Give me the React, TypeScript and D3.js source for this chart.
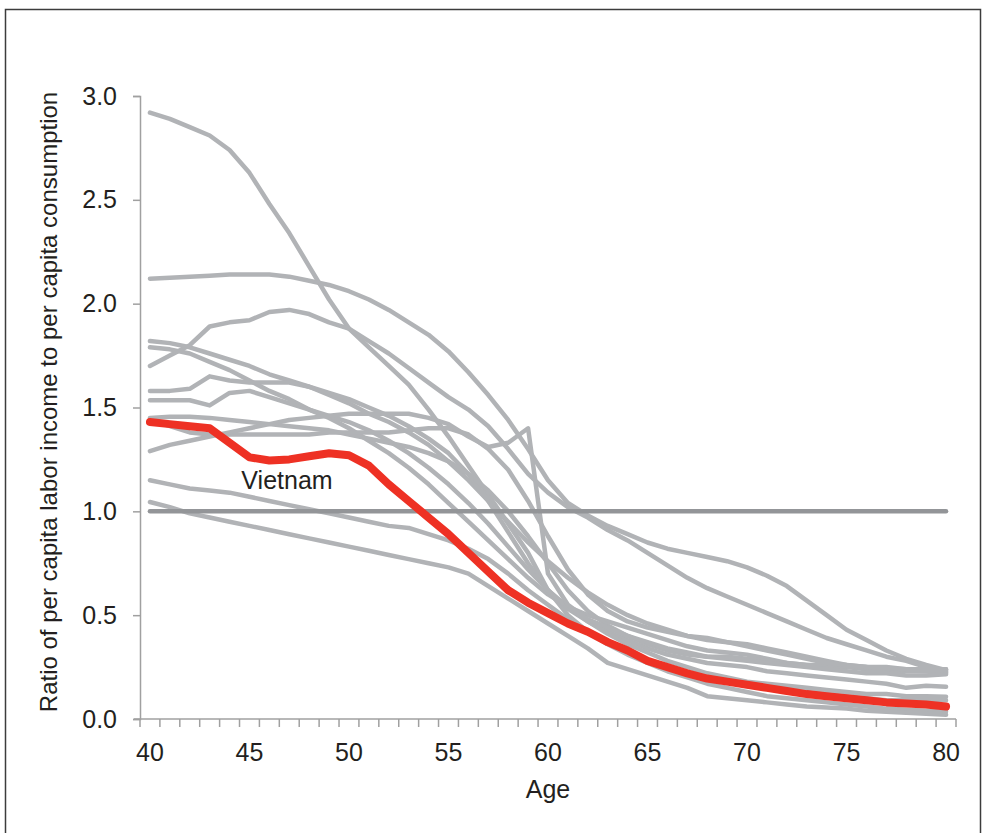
import * as d3 from 'd3';
import { useEffect, useRef } from 'react';

// Ages on the x axis (one category per year)
const ages = d3.range(40, 81);
const xLabels = ['40', '45', '50', '55', '60', '65', '70', '75', '80'];
const yTicks = [0, 0.5, 1.0, 1.5, 2.0, 2.5, 3.0];

// Vietnam (highlighted)
const vietnam = [
  1.43, 1.42, 1.41, 1.40, 1.33, 1.26, 1.245, 1.25, 1.265, 1.28,
  1.27, 1.22, 1.13, 1.05, 0.97, 0.89, 0.80, 0.71, 0.62, 0.56,
  0.51, 0.46, 0.42, 0.37, 0.33, 0.28, 0.25, 0.22, 0.195, 0.18,
  0.165, 0.15, 0.135, 0.12, 0.11, 0.10, 0.09, 0.08, 0.075, 0.07, 0.06,
];

// Other countries (grey)
const countryA = [
  2.92, 2.89, 2.85, 2.81, 2.74, 2.63, 2.48, 2.34, 2.18, 2.02,
  1.88, 1.79, 1.70, 1.61, 1.49, 1.36, 1.22, 1.08, 0.94, 0.80,
  0.62, 0.50, 0.42, 0.36, 0.31, 0.27, 0.23, 0.20, 0.17, 0.15,
  0.13, 0.11, 0.10, 0.09, 0.08, 0.07, 0.06, 0.05, 0.045, 0.04, 0.035,
];
const countryB = [
  2.12, 2.125, 2.13, 2.135, 2.14, 2.14, 2.14, 2.13, 2.11, 2.09,
  2.06, 2.02, 1.97, 1.91, 1.85, 1.77, 1.67, 1.56, 1.44, 1.30,
  1.15, 1.04, 0.98, 0.93, 0.89, 0.85, 0.82, 0.80, 0.78, 0.76,
  0.73, 0.69, 0.64, 0.57, 0.50, 0.43, 0.38, 0.33, 0.29, 0.26, 0.235,
];
const countryC = [
  1.70, 1.75, 1.80, 1.89, 1.91, 1.92, 1.96, 1.97, 1.95, 1.91,
  1.88, 1.82, 1.76, 1.69, 1.62, 1.55, 1.49, 1.41, 1.30, 1.18,
  1.09, 1.02, 0.97, 0.91, 0.86, 0.80, 0.74, 0.68, 0.63, 0.59,
  0.55, 0.51, 0.47, 0.43, 0.39, 0.36, 0.33, 0.30, 0.28, 0.25, 0.225,
];
const countryD = [
  1.82, 1.81, 1.79, 1.76, 1.73, 1.70, 1.66, 1.63, 1.60, 1.56,
  1.52, 1.47, 1.43, 1.38, 1.32, 1.24, 1.15, 1.05, 0.95, 0.85,
  0.76, 0.68, 0.61, 0.55, 0.50, 0.46, 0.43, 0.40, 0.38, 0.37,
  0.36, 0.34, 0.32, 0.30, 0.28, 0.26, 0.25, 0.24, 0.235, 0.23, 0.22,
];
const countryE = [
  1.79, 1.78, 1.76, 1.72, 1.68, 1.63, 1.58, 1.54, 1.49, 1.45,
  1.40, 1.34, 1.28, 1.21, 1.13, 1.04, 0.95, 0.86, 0.77, 0.68,
  0.60, 0.54, 0.50, 0.47, 0.44, 0.41, 0.38, 0.35, 0.33, 0.32,
  0.31, 0.29, 0.27, 0.26, 0.25, 0.25, 0.24, 0.23, 0.23, 0.23, 0.23,
];
const countryF = [
  1.58, 1.58, 1.59, 1.65, 1.63, 1.62, 1.62, 1.62, 1.60, 1.57,
  1.54, 1.50, 1.46, 1.41, 1.35, 1.28, 1.18, 1.05, 0.90, 0.75,
  0.62, 0.53, 0.47, 0.42, 0.38, 0.34, 0.31, 0.29, 0.27, 0.26,
  0.25, 0.23, 0.22, 0.21, 0.20, 0.19, 0.18, 0.17, 0.15, 0.16, 0.155,
];
const countryG = [
  1.535, 1.535, 1.535, 1.51, 1.57, 1.58, 1.55, 1.52, 1.49, 1.46,
  1.43, 1.39, 1.34, 1.28, 1.21, 1.13, 1.04, 0.94, 0.83, 0.72,
  0.62, 0.54, 0.47, 0.41, 0.36, 0.32, 0.28, 0.25, 0.22, 0.20,
  0.18, 0.17, 0.16, 0.15, 0.14, 0.13, 0.12, 0.12, 0.11, 0.11, 0.107,
];
const countryH = [
  1.45, 1.455, 1.455, 1.45, 1.44, 1.43, 1.42, 1.41, 1.40, 1.39,
  1.37, 1.35, 1.33, 1.31, 1.28, 1.24, 1.18, 1.10, 1.00, 0.88,
  0.75, 0.62, 0.52, 0.45, 0.40, 0.36, 0.33, 0.31, 0.30, 0.30,
  0.29, 0.28, 0.27, 0.26, 0.26, 0.25, 0.25, 0.25, 0.24, 0.24, 0.24,
];
const countryI = [
  1.44, 1.41, 1.38, 1.37, 1.37, 1.37, 1.37, 1.37, 1.37, 1.38,
  1.38, 1.38, 1.38, 1.39, 1.40, 1.40, 1.37, 1.30, 1.20, 1.05,
  0.88, 0.72, 0.60, 0.52, 0.47, 0.44, 0.42, 0.40, 0.39, 0.37,
  0.35, 0.33, 0.31, 0.29, 0.27, 0.26, 0.25, 0.245, 0.24, 0.24, 0.24,
];
const countryJ = [
  1.29, 1.32, 1.34, 1.36, 1.38, 1.40, 1.42, 1.44, 1.45, 1.46,
  1.47, 1.47, 1.47, 1.47, 1.45, 1.42, 1.36, 1.31, 1.33, 1.40,
  0.70, 0.55, 0.48, 0.44, 0.40, 0.37, 0.34, 0.32, 0.30, 0.29,
  0.28, 0.27, 0.26, 0.25, 0.24, 0.23, 0.22, 0.22, 0.21, 0.21, 0.215,
];
const countryK = [
  1.15, 1.13, 1.11, 1.10, 1.09, 1.07, 1.05, 1.03, 1.01, 0.99,
  0.97, 0.95, 0.93, 0.92, 0.89, 0.86, 0.82, 0.77, 0.70, 0.62,
  0.55, 0.48, 0.42, 0.37, 0.32, 0.28, 0.25, 0.22, 0.20, 0.18,
  0.16, 0.15, 0.14, 0.13, 0.12, 0.11, 0.10, 0.09, 0.09, 0.09, 0.09,
];
const countryL = [
  1.045, 1.02, 0.99, 0.97, 0.95, 0.93, 0.91, 0.89, 0.87, 0.85,
  0.83, 0.81, 0.79, 0.77, 0.75, 0.73, 0.70, 0.64, 0.58, 0.52,
  0.46, 0.40, 0.34, 0.27, 0.24, 0.21, 0.18, 0.15, 0.11, 0.10,
  0.09, 0.08, 0.07, 0.06, 0.055, 0.05, 0.04, 0.035, 0.03, 0.025, 0.02,
];
const others = [
  countryA, countryB, countryC, countryD, countryE, countryF,
  countryG, countryH, countryI, countryJ, countryK, countryL,
];
const parity = ages.map(() => 1.0);

export default function App() {
  const chartRef = useRef(null);

  const width = 987;
  const height = 833;
  const margin = { top: 96, bottom: 114, left: 140, right: 31 };

  useEffect(() => {
    document.body.style.margin = '0';
    const svg = d3.select(chartRef.current);
    svg.selectAll('*').remove();

    const font = "'Liberation Sans', Arial, sans-serif";
    const xScale = d3
      .scaleBand()
      .domain(ages.map(String))
      .range([margin.left, width - margin.right]);
    const yScale = d3
      .scaleLinear()
      .domain([0, 3])
      .range([height - margin.bottom, margin.top]);
    const cx = (i) => xScale(String(ages[i])) + xScale.bandwidth() / 2;

    // Frame
    svg
      .append('rect')
      .attr('x', 5.5)
      .attr('y', 9.5)
      .attr('width', 975)
      .attr('height', 900)
      .attr('fill', 'none')
      .attr('stroke', '#3c3c3c')
      .attr('stroke-width', 1.5);

    const line = d3
      .line()
      .x((d, i) => cx(i))
      .y((d) => yScale(d));

    // Grey country lines
    svg
      .append('g')
      .selectAll('path')
      .data(others)
      .enter()
      .append('path')
      .attr('d', (d) => line(d))
      .attr('fill', 'none')
      .attr('stroke', '#b1b3b6')
      .attr('stroke-width', 4.5)
      .attr('stroke-linejoin', 'round')
      .attr('stroke-linecap', 'round');

    // Ratio = 1 reference
    svg
      .append('path')
      .attr('d', line(parity))
      .attr('fill', 'none')
      .attr('stroke', '#939598')
      .attr('stroke-width', 4.5)
      .attr('stroke-linecap', 'round');

    // Vietnam
    svg
      .append('path')
      .attr('d', line(vietnam))
      .attr('fill', 'none')
      .attr('stroke', '#ee3124')
      .attr('stroke-width', 8)
      .attr('stroke-linejoin', 'round')
      .attr('stroke-linecap', 'round');

    svg
      .append('text')
      .text('Vietnam')
      .attr('x', 287)
      .attr('y', 489)
      .attr('text-anchor', 'middle')
      .attr('font-size', 25)
      .attr('font-family', font)
      .attr('fill', '#231f20');

    // Axes
    const axisColor = '#a0a0a0';
    const yAxis = d3
      .axisLeft(yScale)
      .tickValues(yTicks)
      .tickSize(7)
      .tickPadding(16)
      .tickFormat(d3.format('.1f'));
    const gy = svg
      .append('g')
      .attr('transform', `translate(${margin.left},0)`)
      .call(yAxis);
    gy.selectAll('path, line').attr('stroke', axisColor).attr('stroke-width', 1.5);
    gy.selectAll('text')
      .attr('font-size', 25)
      .attr('font-family', font)
      .attr('fill', '#231f20');

    const axisY = yScale(0);
    const gx = svg.append('g');
    gx.append('line')
      .attr('x1', margin.left - 6)
      .attr('x2', width - margin.right)
      .attr('y1', axisY)
      .attr('y2', axisY)
      .attr('stroke', axisColor)
      .attr('stroke-width', 1.5);
    const boundaries = ages.map((a) => xScale(String(a))).concat([width - margin.right]);
    gx.selectAll('.tick')
      .data(boundaries)
      .enter()
      .append('line')
      .attr('x1', (d) => d)
      .attr('x2', (d) => d)
      .attr('y1', axisY)
      .attr('y2', axisY + 8)
      .attr('stroke', axisColor)
      .attr('stroke-width', 1.5);
    gx.selectAll('.lbl')
      .data(xLabels)
      .enter()
      .append('text')
      .text((d) => d)
      .attr('x', (d) => xScale(d) + xScale.bandwidth() / 2)
      .attr('y', 761)
      .attr('text-anchor', 'middle')
      .attr('font-size', 25)
      .attr('font-family', font)
      .attr('fill', '#231f20');

    // Axis titles
    svg
      .append('text')
      .text('Age')
      .attr('x', 548)
      .attr('y', 798)
      .attr('text-anchor', 'middle')
      .attr('font-size', 25)
      .attr('font-family', font)
      .attr('fill', '#231f20');
    svg
      .append('text')
      .text('Ratio of per capita labor income to per capita consumption')
      .attr('transform', 'translate(57,402) rotate(-90)')
      .attr('text-anchor', 'middle')
      .attr('font-size', 24)
      .attr('font-family', font)
      .attr('fill', '#231f20');
  }, []);

  return (
    <svg
      width={width}
      height={height}
      ref={chartRef}
      style={{ display: 'block', background: '#fff' }}
    />
  );
}
